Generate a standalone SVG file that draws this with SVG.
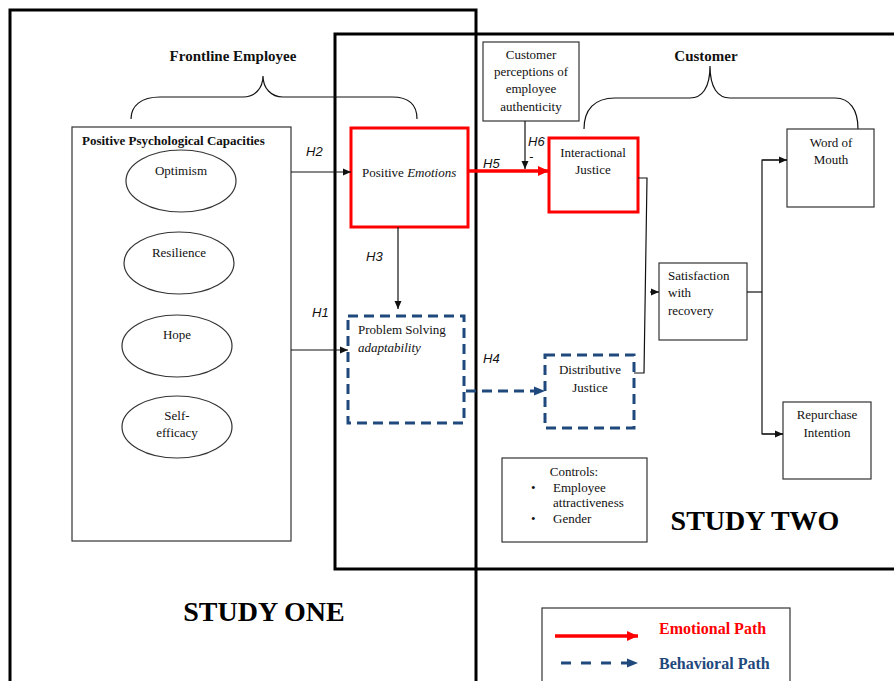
<svg xmlns="http://www.w3.org/2000/svg" width="894" height="681" viewBox="0 0 894 681">
<style>
.frame{fill:none;stroke:#000;stroke-width:3}
.box{fill:#fff;stroke:#333;stroke-width:1.2}
.red{fill:#fff;stroke:#ff0000;stroke-width:3}
.blue{fill:#fff;stroke:#1f497d;stroke-width:3;stroke-dasharray:10,6}
.t{font-family:"Liberation Serif","Times New Roman",serif;font-size:13px;fill:#111}
.tc{font-family:"Liberation Serif","Times New Roman",serif;font-size:13px;fill:#111;text-anchor:middle}
.h{font-family:"Liberation Sans",Arial,sans-serif;font-size:13px;font-style:italic;fill:#111}
.hd{font-family:"Liberation Serif","Times New Roman",serif;font-size:15px;font-weight:bold;fill:#111;text-anchor:middle}
.big{font-family:"Liberation Serif","Times New Roman",serif;font-size:28px;font-weight:bold;fill:#000;text-anchor:middle}
.ln{fill:none;stroke:#111;stroke-width:1.2}
.brace{fill:none;stroke:#111;stroke-width:1.2}
</style>
<defs>
<marker id="ab" markerUnits="userSpaceOnUse" markerWidth="8" markerHeight="8" refX="8" refY="4" orient="auto"><path d="M0,0.5 L8,4 L0,7.5 z" fill="#111"/></marker>
<marker id="ar" markerUnits="userSpaceOnUse" markerWidth="12" markerHeight="12" refX="11" refY="6" orient="auto"><path d="M0,1 L11,6 L0,11 z" fill="#ff0000"/></marker>
<marker id="au" markerUnits="userSpaceOnUse" markerWidth="12" markerHeight="12" refX="11" refY="6" orient="auto"><path d="M0,1.5 L11,6 L0,10.5 z" fill="#1f497d"/></marker>
</defs>
<rect width="894" height="681" fill="#fff"/>

<g id="study-one-frame">
<rect class="frame" x="10" y="10" width="466" height="700"/>
<text class="big" x="264" y="621">STUDY ONE</text>
</g>
<g id="study-two-frame">
<rect class="frame" x="335" y="34" width="620" height="535"/>
<text class="big" x="755" y="530">STUDY TWO</text>
</g>

<g id="frontline-header">
<text class="hd" x="233" y="61">Frontline Employee</text>
<path class="brace" d="M131,119 C131,106 141,97 160,97 L243,97 C255,97 263,88 263,76 C263,88 271,97 283,97 L392,97 C410,97 417,106 417,119"/>
</g>
<g id="customer-header">
<text class="hd" x="706" y="61">Customer</text>
<path class="brace" d="M584,129 C584,110 594,98 615,98 L690,98 C702,98 710,88 710,66 C710,88 718,98 730,98 L835,98 C850,98 858,110 858,129"/>
</g>

<g id="ppc">
<rect class="box" x="72" y="127" width="219" height="414"/>
<text x="82" y="145" font-family="Liberation Serif, Times New Roman, serif" font-size="13" font-weight="bold" fill="#111">Positive Psychological Capacities</text>
<g id="optimism"><ellipse class="box" cx="181" cy="181" rx="55" ry="31"/><text class="tc" x="181" y="175">Optimism</text></g>
<g id="resilience"><ellipse class="box" cx="179" cy="263" rx="55" ry="31"/><text class="tc" x="179" y="257">Resilience</text></g>
<g id="hope"><ellipse class="box" cx="177" cy="346" rx="55" ry="31"/><text class="tc" x="177" y="339">Hope</text></g>
<g id="self-efficacy"><ellipse class="box" cx="177" cy="427" rx="55" ry="31"/><text class="tc" x="177" y="420">Self-</text><text class="tc" x="177" y="437">efficacy</text></g>
</g>

<g id="positive-emotions">
<rect class="red" x="351" y="128" width="117" height="99"/>
<text class="t" x="362" y="177">Positive <tspan font-style="italic">Emotions</tspan></text>
</g>

<g id="problem-solving">
<rect class="blue" x="348" y="316" width="116" height="107"/>
<text class="t" x="358" y="334">Problem Solving</text>
<text class="t" x="358" y="352" font-style="italic">adaptability</text>
</g>

<g id="customer-perceptions">
<rect class="box" x="483" y="42" width="96" height="79"/>
<text class="tc" x="531" y="59">Customer</text>
<text class="tc" x="531" y="76">perceptions of</text>
<text class="tc" x="531" y="93">employee</text>
<text class="tc" x="531" y="111">authenticity</text>
</g>

<g id="interactional-justice">
<rect class="red" x="549" y="138" width="89" height="74"/>
<text class="tc" x="593" y="157">Interactional</text>
<text class="tc" x="593" y="174">Justice</text>
</g>

<g id="distributive-justice">
<rect class="blue" x="545" y="355" width="89" height="73"/>
<text class="tc" x="590" y="374">Distributive</text>
<text class="tc" x="590" y="392">Justice</text>
</g>

<g id="satisfaction">
<rect class="box" x="659" y="263" width="88" height="77"/>
<text class="t" x="668" y="280">Satisfaction</text>
<text class="t" x="668" y="297">with</text>
<text class="t" x="668" y="315">recovery</text>
</g>

<g id="word-of-mouth">
<rect class="box" x="787" y="129" width="87" height="78"/>
<text class="tc" x="831" y="147">Word of</text>
<text class="tc" x="831" y="164">Mouth</text>
</g>

<g id="repurchase">
<rect class="box" x="783" y="402" width="88" height="77"/>
<text class="tc" x="827" y="419">Repurchase</text>
<text class="tc" x="827" y="437">Intention</text>
</g>

<g id="controls">
<rect class="box" x="502" y="458" width="145" height="84"/>
<text class="tc" x="574" y="476">Controls:</text>
<text class="t" x="531" y="492">•</text>
<text class="t" x="553" y="492">Employee</text>
<text class="t" x="553" y="507">attractiveness</text>
<text class="t" x="531" y="523">•</text>
<text class="t" x="553" y="523">Gender</text>
</g>

<g id="connectors">
<line class="ln" x1="291" y1="172" x2="351" y2="172" marker-end="url(#ab)"/>
<line class="ln" x1="291" y1="350" x2="348" y2="350" marker-end="url(#ab)"/>
<line class="ln" x1="398" y1="227" x2="398" y2="309" marker-end="url(#ab)"/>
<line x1="467" y1="171" x2="549" y2="171" stroke="#ff0000" stroke-width="3.5" marker-end="url(#ar)"/>
<line class="ln" x1="525" y1="121" x2="525" y2="169" marker-end="url(#ab)"/>
<line x1="466" y1="391" x2="545" y2="391" stroke="#1f497d" stroke-width="3" stroke-dasharray="10,6" marker-end="url(#au)"/>
<polyline class="ln" points="638,178 647,178 644,373 634,373"/>
<line class="ln" x1="650" y1="292" x2="659" y2="292" marker-end="url(#ab)"/>
<line class="ln" x1="747" y1="292" x2="762" y2="292"/>
<polyline class="ln" points="787,160 762,160 762,434 783,434"/>
<line class="ln" x1="762" y1="160" x2="787" y2="160" marker-end="url(#ab)"/>
<line class="ln" x1="762" y1="434" x2="783" y2="434" marker-end="url(#ab)"/>
</g>

<g id="hypothesis-labels">
<text class="h" x="306" y="156">H2</text>
<text class="h" x="312" y="317">H1</text>
<text class="h" x="366" y="261">H3</text>
<text class="h" x="483" y="168">H5</text>
<text class="h" x="528" y="146">H6</text>
<text class="h" x="529" y="161" font-size="10">-</text>
<text class="h" x="483" y="363">H4</text>
</g>

<g id="legend">
<rect class="box" x="542" y="608" width="248" height="90"/>
<line x1="555" y1="636" x2="638" y2="636" stroke="#ff0000" stroke-width="3.5" marker-end="url(#ar)"/>
<text x="659" y="634" font-family="Liberation Serif, Times New Roman, serif" font-size="16" font-weight="bold" fill="#ff0000">Emotional Path</text>
<line x1="561" y1="663" x2="638" y2="663" stroke="#1f497d" stroke-width="3" stroke-dasharray="10,10" marker-end="url(#au)"/>
<text x="659" y="669" font-family="Liberation Serif, Times New Roman, serif" font-size="16" font-weight="bold" fill="#1f497d">Behavioral Path</text>
</g>
</svg>
